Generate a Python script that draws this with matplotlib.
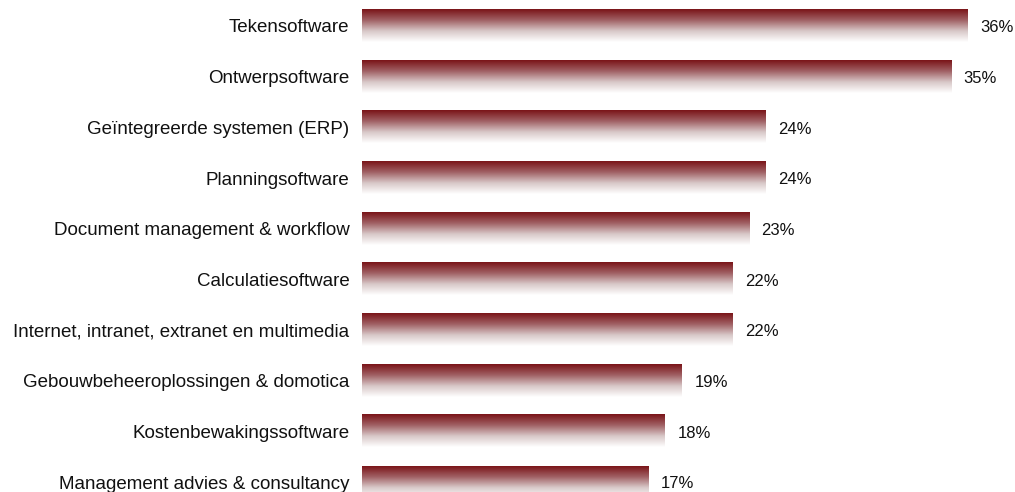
import numpy as np
import matplotlib
matplotlib.use("Agg")
import matplotlib.pyplot as plt
from matplotlib.colors import LinearSegmentedColormap

plt.rcParams['font.family'] = ['Liberation Sans', 'DejaVu Sans']

categories = ["Tekensoftware", "Ontwerpsoftware", "Geïntegreerde systemen (ERP)",
              "Planningsoftware", "Document management & workflow", "Calculatiesoftware",
              "Internet, intranet, extranet en multimedia", "Gebouwbeheeroplossingen & domotica",
              "Kostenbewakingssoftware", "Management advies & consultancy"]
values = [36, 35, 24, 24, 23, 22, 22, 19, 18, 17]
labels = ["36%", "35%", "24%", "24%", "23%", "22%", "22%", "19%", "18%", "17%"]

W, H = 1015, 492
fig = plt.figure(figsize=(W / 100, H / 100), dpi=100)
ax = fig.add_axes([362 / W, 0, 1 - 362 / W, 1])

y = np.arange(len(categories))
bars = ax.barh(y, values, height=0.632, color='none', edgecolor='none')

# gradient dark red -> white, top to bottom
cmap = LinearSegmentedColormap.from_list("grad", ["#7a1418", "#a06064", "#d8c8c8", "#ffffff"])
grad = np.linspace(0, 1, 256).reshape(-1, 1)
for b in bars:
    x0, y0 = b.get_x(), b.get_y()
    ax.imshow(grad, cmap=cmap, aspect='auto', interpolation='bilinear',
              extent=[x0, x0 + b.get_width(), y0 + b.get_height(), y0], zorder=2)

for i, (v, lab) in enumerate(zip(values, labels)):
    ax.annotate(lab, (v, i), xytext=(9.0, -1.2), textcoords='offset points',
                ha='left', va='center', fontsize=12, color='#111111')

ax.set_xlim(0, (W - 362) / 16.83)
ax.set_ylim((H - 26) / 50.67, -26 / 50.67)
ax.set_yticks(y)
ax.set_yticklabels(categories, fontsize=13.5, color='#111111')
ax.tick_params(axis='y', length=0, pad=9)
ax.set_xticks([])
for s in ax.spines.values():
    s.set_visible(False)

fig.savefig("out.png", dpi=100)
